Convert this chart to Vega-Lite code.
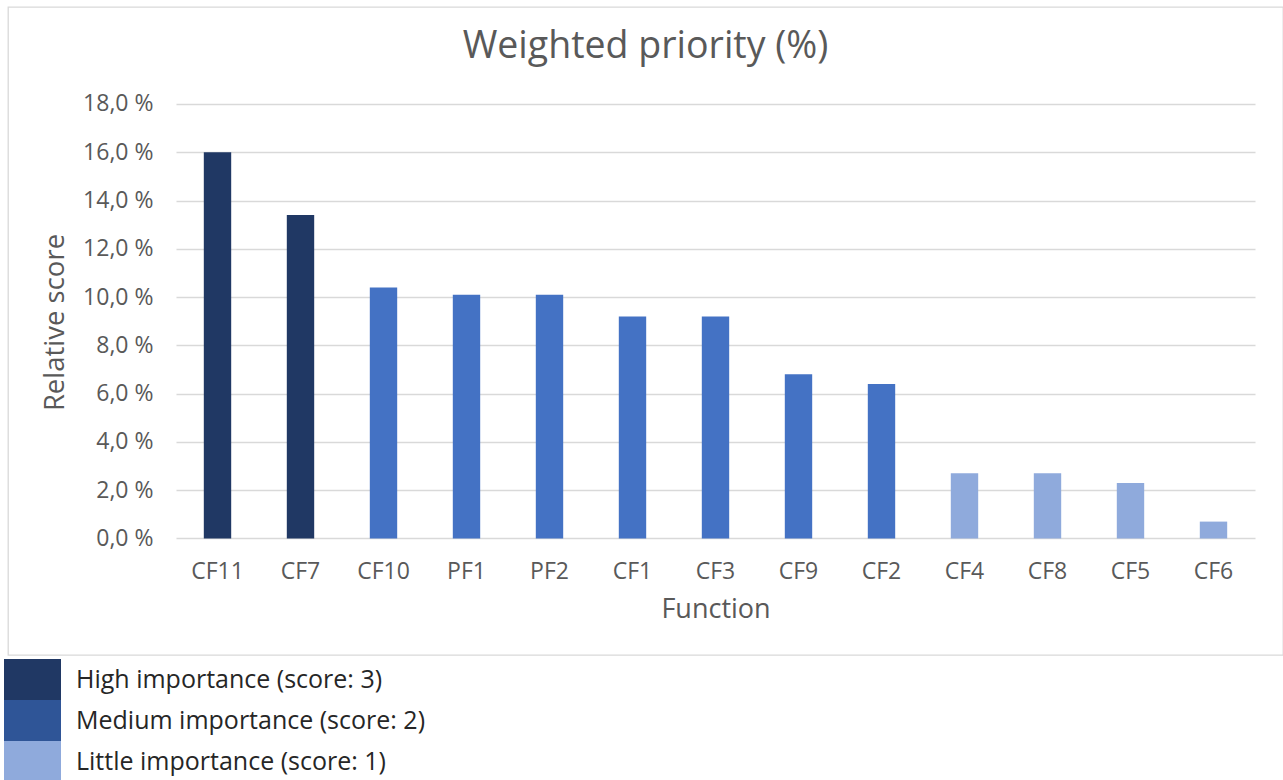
{
  "$schema": "https://vega.github.io/schema/vega-lite/v6.json",
  "width": 1275,
  "height": 648,
  "autosize": "none",
  "padding": {"left": 8, "top": 7, "right": 0, "bottom": 125},
  "background": "white",
  "config": {
    "view": {"stroke": "#d9d9d9", "strokeWidth": 1.3},
    "font": "Open Sans"
  },
  "title": {
    "text": "Weighted priority (%)",
    "fontSize": 37.5,
    "font": "Open Sans",
    "fontWeight": "normal",
    "color": "#595959",
    "anchor": "middle",
    "frame": "group",
    "baseline": "alphabetic",
    "offset": -88
  },
  "data": {
    "values": [
      {"function": "CF11", "score": 16.0, "importance": "High importance (score: 3)"},
      {"function": "CF7", "score": 13.4, "importance": "High importance (score: 3)"},
      {"function": "CF10", "score": 10.4, "importance": "Medium importance (score: 2)"},
      {"function": "PF1", "score": 10.1, "importance": "Medium importance (score: 2)"},
      {"function": "PF2", "score": 10.1, "importance": "Medium importance (score: 2)"},
      {"function": "CF1", "score": 9.2, "importance": "Medium importance (score: 2)"},
      {"function": "CF3", "score": 9.2, "importance": "Medium importance (score: 2)"},
      {"function": "CF9", "score": 6.8, "importance": "Medium importance (score: 2)"},
      {"function": "CF2", "score": 6.4, "importance": "Medium importance (score: 2)"},
      {"function": "CF4", "score": 2.7, "importance": "Little importance (score: 1)"},
      {"function": "CF8", "score": 2.7, "importance": "Little importance (score: 1)"},
      {"function": "CF5", "score": 2.3, "importance": "Little importance (score: 1)"},
      {"function": "CF6", "score": 0.7, "importance": "Little importance (score: 1)"}
    ]
  },
  "encoding": {
    "x": {
      "field": "function",
      "type": "nominal",
      "sort": null,
      "scale": {"range": [168, 1247], "paddingInner": 0.67, "paddingOuter": 0.335},
      "axis": {
        "orient": "bottom",
        "offset": -116.5,
        "domain": false,
        "ticks": false,
        "grid": false,
        "labelAngle": 0,
        "labelPadding": 39.5,
        "labelBaseline": "alphabetic",
        "labelFont": "Open Sans",
        "labelFontSize": 23,
        "labelColor": "#595959",
        "title": "Function",
        "titleFont": "Open Sans",
        "titleFontSize": 27,
        "titleFontWeight": "normal",
        "titleColor": "#595959",
        "titleY": 78.5,
        "titleBaseline": "alphabetic"
      }
    },
    "y": {
      "field": "score",
      "type": "quantitative",
      "scale": {"domain": [-4.826, 22.017], "nice": false, "zero": false},
      "axis": {
        "orient": "left",
        "offset": -1247,
        "values": [0, 2, 4, 6, 8, 10, 12, 14, 16, 18],
        "domain": false,
        "ticks": true,
        "tickSize": 1079,
        "tickColor": "#d9d9d9",
        "tickWidth": 1.3,
        "grid": false,
        "labelPadding": 23,
        "labelFont": "Open Sans",
        "labelFontSize": 23,
        "labelColor": "#595959",
        "labelExpr": "replace(format(datum.value, '.1f'), '.', ',') + ' %'",
        "title": "Relative score",
        "titleFont": "Open Sans",
        "titleFontSize": 27.5,
        "titleFontWeight": "normal",
        "titleColor": "#595959",
        "titleX": -1192,
        "titleY": 315,
        "titleBaseline": "alphabetic",
        "zindex": 0
      }
    },
    "y2": {"datum": 0}
  },
  "layer": [
    {
      "mark": {"type": "bar", "fillOpacity": 0},
      "encoding": {
        "fill": {
          "field": "importance",
          "type": "nominal",
          "scale": {
            "domain": ["High importance (score: 3)", "Medium importance (score: 2)", "Little importance (score: 1)"],
            "range": ["#203864", "#2f5597", "#8faadc"]
          },
          "legend": {
            "orient": "none",
            "legendX": -4,
            "legendY": 652,
            "title": null,
            "direction": "vertical",
            "symbolType": "M-1,-0.719H1V0.719H-1Z",
            "symbolSize": 3249,
            "symbolOpacity": 1,
            "symbolFillOpacity": 1,
            "symbolStrokeWidth": 0,
            "clipHeight": 41,
            "rowPadding": 0,
            "labelOffset": 15,
            "labelFont": "Open Sans",
            "labelFontSize": 25,
            "labelBaseline": "middle",
            "labelColor": "#262626",
            "labelLimit": 500,
            "padding": 0,
            "offset": 0
          }
        }
      }
    },
    {
      "mark": {"type": "bar"},
      "encoding": {
        "color": {
          "field": "importance",
          "type": "nominal",
          "scale": {
            "domain": ["High importance (score: 3)", "Medium importance (score: 2)", "Little importance (score: 1)"],
            "range": ["#203864", "#4472c4", "#8faadc"]
          },
          "legend": null
        }
      }
    }
  ]
}
